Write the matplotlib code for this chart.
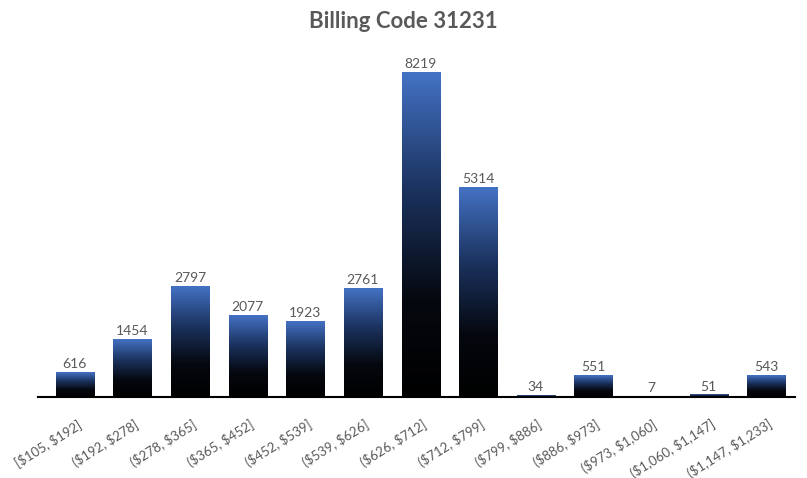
import matplotlib
matplotlib.use("Agg")
import matplotlib.pyplot as plt
import numpy as np
from matplotlib.colors import LinearSegmentedColormap

# bins and counts
bins = ["[$105, $192]", "($192, $278]", "($278, $365]", "($365, $452]",
        "($452, $539]", "($539, $626]", "($626, $712]", "($712, $799]",
        "($799, $886]", "($886, $973]", "($973, $1,060]", "($1,060, $1,147]",
        "($1,147, $1,233]"]
counts = [616, 1454, 2797, 2077, 1923, 2761, 8219, 5314, 34, 551, 7, 51, 543]

plt.rcParams['font.family'] = ['Lato', 'DejaVu Sans']
plt.rcParams['text.parse_math'] = False

fig = plt.figure(figsize=(8.07, 4.78), dpi=100)
ax = fig.add_axes([38 / 807, 1 - 397 / 478, (795 - 38) / 807, 355 / 478])

cmap = LinearSegmentedColormap.from_list(
    "bluefade", [(0.0, "#000000"), (0.3, "#05080f"), (0.65, "#1c3461"), (1.0, "#4472c4")])
grad = np.linspace(1, 0, 256).reshape(-1, 1)

width = 0.66
x = np.arange(len(counts))
bars = ax.bar(x, counts, width=width, color="none", edgecolor="none")
for xi, h in zip(x, counts):
    ax.imshow(grad, cmap=cmap, aspect="auto", extent=[xi - width / 2, xi + width / 2, 0, h],
              interpolation="bicubic", zorder=2)
    ax.text(xi, h + 60, str(h), ha="center", va="bottom", fontsize=10, color="#595959")

ax.set_xlim(-0.64, 12.5)
ax.set_ylim(0, 9000)
ax.set_xticks(x + 0.03)
ax.set_xticklabels(bins, rotation=32, ha="right", rotation_mode="anchor",
                   fontsize=9.5, color="#595959")
ax.tick_params(axis="x", length=0, pad=15)
ax.set_yticks([])
for side in ["top", "right", "left"]:
    ax.spines[side].set_visible(False)
ax.spines["bottom"].set_linewidth(1.5)
ax.spines["bottom"].set_color("#000000")
ax.spines["bottom"].set_zorder(3)

fig.text(0.5, 0.955, "Billing Code 31231", ha="center", va="center",
         fontsize=16, fontweight="bold", color="#595959")

fig.savefig("out.png", dpi=100)
